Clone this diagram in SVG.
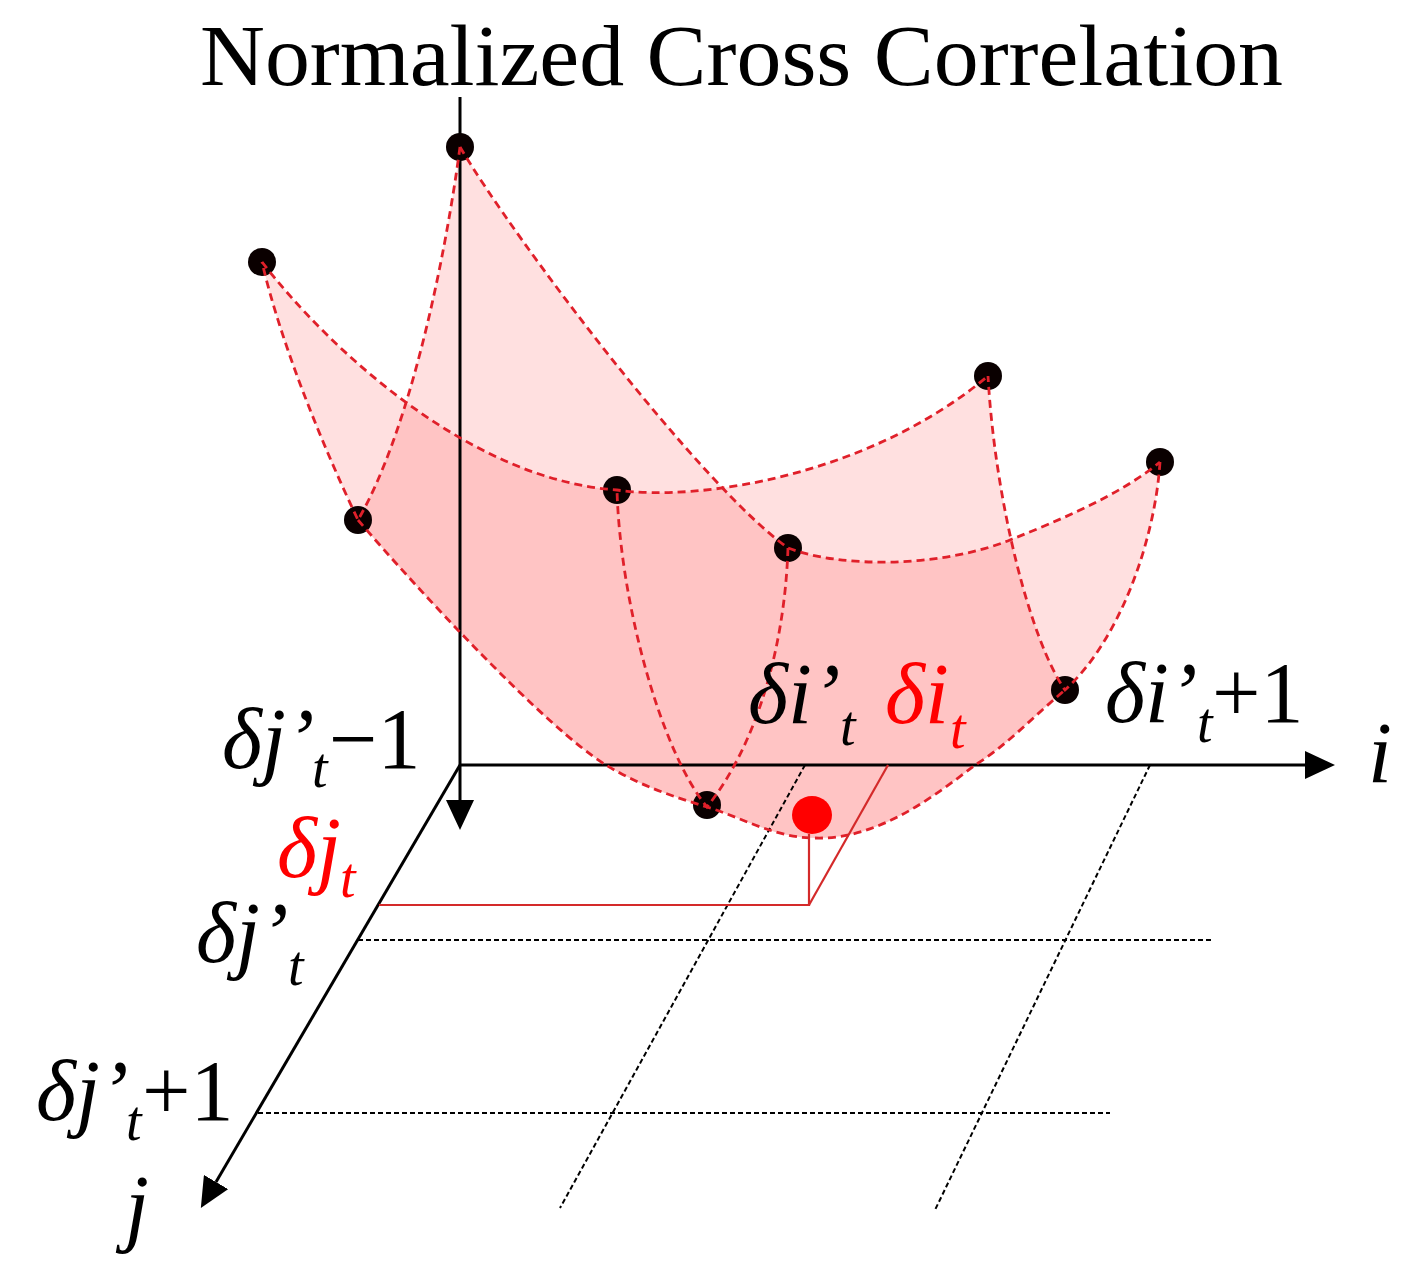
<svg xmlns="http://www.w3.org/2000/svg" width="1416" height="1276" viewBox="0 0 1416 1276">
<defs>
<style>
.lbl{font-family:"Liberation Serif","Times New Roman",serif;font-size:86px;fill:#000}
.it{font-style:italic}
.sub{font-size:56px;font-style:italic}
.red{fill:#FF0000}
.patch{fill:#FF0000;fill-opacity:0.12;stroke:none}
.curve{fill:none;stroke:#E0202A;stroke-width:2.8;stroke-dasharray:8 5}
.axis{fill:none;stroke:#000;stroke-width:3}
.grid{fill:none;stroke:#000;stroke-width:2;stroke-dasharray:5 3}
.redline{fill:none;stroke:#D42A2A;stroke-width:2.2}
.dot{fill:#0a0000}
</style>
<marker id="arr" viewBox="0 0 30 28" refX="0" refY="14" markerWidth="30" markerHeight="28" markerUnits="userSpaceOnUse" orient="auto">
<path d="M0,0 L30,14 L0,28 z" fill="#000"/>
</marker>
</defs>
<rect width="1416" height="1276" fill="#fff"/>

<text id="title" class="lbl" x="200" y="85" font-size="90" textLength="1083" lengthAdjust="spacingAndGlyphs">Normalized Cross Correlation</text>

<g id="surface">
<path class="patch" d="M460,147 C515,240 700,485 788,548 C785,640 760,740 707,807 C675,797 640,786 606,765 C546,728 418,590 358,520 C410,430 445,260 460,147 Z"/>
<path class="patch" d="M788,548 C840,568 940,568 1010,540 C1060,520 1120,495 1160,462 C1155,540 1120,640 1065,690 C1035,715 1005,747 975,765 C930,800 875,840 815,838 C775,838 743,818 707,807 C760,740 785,640 788,548 Z"/>
<path class="patch" d="M358,520 C418,590 546,728 606,765 C640,786 675,797 707,807 C660,750 620,600 617,490 C470,480 330,350 262,262 C280,340 320,440 358,520 Z"/>
<path class="patch" d="M707,807 C743,818 775,838 815,838 C875,840 930,800 975,765 C1005,747 1035,715 1065,690 C1030,640 995,500 988,376 C870,475 700,502 617,490 C620,600 660,750 707,807 Z"/>
</g>

<g id="axes">
<line class="axis" x1="460" y1="97" x2="460" y2="800" marker-end="url(#arr)"/>
<line class="axis" x1="460" y1="765" x2="1305" y2="765" marker-end="url(#arr)"/>
<line class="axis" x1="460" y1="765" x2="216" y2="1182" marker-end="url(#arr)"/>
<path class="grid" d="M358,940 H1212"/>
<path class="grid" d="M258,1113 H1110"/>
<path class="grid" d="M805,765 L560,1208"/>
<path class="grid" d="M1150,765 L935,1210"/>
</g>

<g id="nodes">
<g id="n00"><circle class="dot" cx="460" cy="147" r="14"/></g>
<g id="n02"><circle class="dot" cx="262" cy="262" r="14"/></g>
<g id="n01"><circle class="dot" cx="358" cy="520" r="14"/></g>
<g id="n12"><circle class="dot" cx="617" cy="490" r="14"/></g>
<g id="n22"><circle class="dot" cx="988" cy="376" r="14"/></g>
<g id="n10"><circle class="dot" cx="788" cy="548" r="14"/></g>
<g id="n20"><circle class="dot" cx="1160" cy="462" r="14"/></g>
<g id="n21"><circle class="dot" cx="1065" cy="690" r="14"/></g>
<g id="n11"><circle class="dot" cx="707" cy="805" r="14"/></g>
</g>

<g id="connectors">
<path class="curve" d="M460,147 C515,240 700,485 788,548 C840,568 940,568 1010,540 C1060,520 1120,495 1160,462"/>
<path class="curve" d="M358,520 C418,590 546,728 606,765 C640,786 675,797 707,807 C743,818 775,838 815,838 C875,840 930,800 975,765 C1005,747 1035,715 1065,690"/>
<path class="curve" d="M262,262 C330,350 470,480 617,490 C700,502 870,475 988,376"/>
<path class="curve" d="M460,147 C445,260 410,430 358,520 C320,440 280,340 262,262"/>
<path class="curve" d="M788,548 C785,640 760,740 707,807 C660,750 620,600 617,490"/>
<path class="curve" d="M1160,462 C1155,540 1120,640 1065,690 C1030,640 995,500 988,376"/>
<path class="redline" d="M379,905 H809 V834"/>
<path class="redline" d="M888,765 L809,905"/>
</g>

<g id="peak">
<ellipse cx="812" cy="815" rx="20" ry="19" fill="#FF0000"/>
</g>

<g id="labels">
<text class="lbl"><tspan class="it" x="222" y="768">δj’</tspan><tspan class="sub" x="312" y="787">t</tspan><tspan x="329" y="768">−1</tspan></text>
<text class="lbl"><tspan class="it" x="748" y="723">δi’</tspan><tspan class="sub" x="840" y="745">t</tspan></text>
<text class="lbl red"><tspan class="it" x="885" y="723">δi</tspan><tspan class="sub" x="950" y="748">t</tspan></text>
<text class="lbl"><tspan class="it" x="1105" y="722">δi’</tspan><tspan class="sub" x="1197" y="742">t</tspan><tspan x="1212" y="722">+1</tspan></text>
<text class="lbl"><tspan class="it" x="1368" y="782">i</tspan></text>
<text class="lbl red"><tspan class="it" x="277" y="877">δj</tspan><tspan class="sub" x="340" y="897">t</tspan></text>
<text class="lbl"><tspan class="it" x="196" y="962">δj’</tspan><tspan class="sub" x="288" y="985">t</tspan></text>
<text class="lbl"><tspan class="it" x="36" y="1120">δj’</tspan><tspan class="sub" x="126" y="1140">t</tspan><tspan x="142" y="1120">+1</tspan></text>
<text class="lbl"><tspan class="it" x="125" y="1235">j</tspan></text>
</g>
</svg>
